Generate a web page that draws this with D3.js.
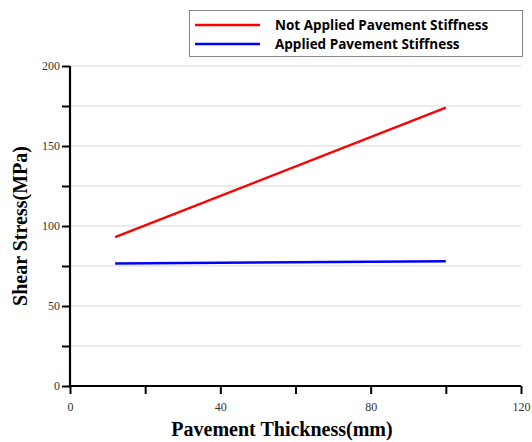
<!DOCTYPE html>
<html>
<head>
<meta charset="utf-8">
<script src="https://cdn.jsdelivr.net/npm/d3@7"></script>
<style>
  body { margin: 0; background: #fff; }
</style>
</head>
<body>
<script>
// values
var thickness = [12, 100];
var notApplied = [93, 174];
var applied = [76.5, 78];
var xTicks = [0, 40, 80, 120];
var yTicks = [0, 50, 100, 150, 200];

var width = 532, height = 442;
var margin = {left: 70, right: 11, top: 66, bottom: 56};

var svg = d3.select("body").append("svg")
  .attr("width", width)
  .attr("height", height);

var x = d3.scaleLinear().domain([0, 120]).range([margin.left, width - margin.right]);
var y = d3.scaleLinear().domain([0, 200]).range([height - margin.bottom, margin.top]);

// grid lines every 25
svg.append("g").selectAll("line")
  .data(d3.range(25, 201, 25))
  .enter().append("line")
  .attr("x1", x(0)).attr("x2", x(120))
  .attr("y1", d => y(d)).attr("y2", d => y(d))
  .attr("stroke", "#d9d9d9")
  .attr("stroke-width", 1.2);

// y axis
var yAxis = svg.append("g")
  .attr("transform", "translate(" + x(0) + ",0)")
  .call(d3.axisLeft(y).tickValues(d3.range(0, 201, 25)).tickSize(8).tickFormat(d => yTicks.includes(d) ? d : ""));

// x axis
var xAxis = svg.append("g")
  .attr("transform", "translate(0," + y(0) + ")")
  .call(d3.axisBottom(x).tickValues(d3.range(0, 121, 20)).tickSize(8).tickFormat(d => xTicks.includes(d) ? d : ""));

[yAxis, xAxis].forEach(function(a) {
  a.select(".domain").attr("stroke", "#000").attr("stroke-width", 2.2);
  a.selectAll(".tick line").attr("stroke", "#000").attr("stroke-width", 2);
  a.selectAll(".tick text")
    .attr("fill", "#333")
    .style("font-family", "Liberation Serif, serif")
    .style("font-size", "12px");
});
yAxis.select(".domain").attr("d", "M0," + y(0) + "V" + y(200));
xAxis.select(".domain").attr("d", "M" + x(0) + ",0H" + x(120));
yAxis.selectAll(".tick text").attr("x", -10);
xAxis.selectAll(".tick text").attr("y", 16);

// lines
var line = d3.line().x(d => x(d[0])).y(d => y(d[1]));
svg.append("path")
  .datum(d3.zip(thickness, notApplied))
  .attr("d", line).attr("fill", "none")
  .attr("stroke", "#ff0000").attr("stroke-width", 2.5);
svg.append("path")
  .datum(d3.zip(thickness, applied))
  .attr("d", line).attr("fill", "none")
  .attr("stroke", "#0000ff").attr("stroke-width", 2.5);

// axis titles
svg.append("text")
  .attr("transform", "translate(27," + ((y(0) + y(200)) / 2) + ") rotate(-90)")
  .attr("text-anchor", "middle")
  .style("font-family", "Liberation Serif, serif")
  .style("font-weight", "bold")
  .style("font-size", "20px")
  .text("Shear Stress(MPa)");

svg.append("text")
  .attr("x", 282).attr("y", 436)
  .attr("text-anchor", "middle")
  .style("font-family", "Liberation Serif, serif")
  .style("font-weight", "bold")
  .style("font-size", "20px")
  .text("Pavement Thickness(mm)");

// legend
var legend = svg.append("g");
legend.append("rect")
  .attr("x", 189.5).attr("y", 10.5).attr("width", 333).attr("height", 46)
  .attr("fill", "#fff").attr("stroke", "#888").attr("stroke-width", 1);
var items = [["Not Applied Pavement Stiffness", "#ff0000"], ["Applied Pavement Stiffness", "#0000ff"]];
items.forEach(function(it, i) {
  var ly = 25 + i * 19;
  legend.append("line")
    .attr("x1", 195).attr("x2", 260).attr("y1", ly).attr("y2", ly)
    .attr("stroke", it[1]).attr("stroke-width", 2.5);
  legend.append("text")
    .attr("x", 275).attr("y", ly + 5)
    .style("font-family", "Open Sans, sans-serif")
    .style("font-weight", "bold")
    .style("font-size", "13.5px")
    .text(it[0]);
});
</script>
</body>
</html>
